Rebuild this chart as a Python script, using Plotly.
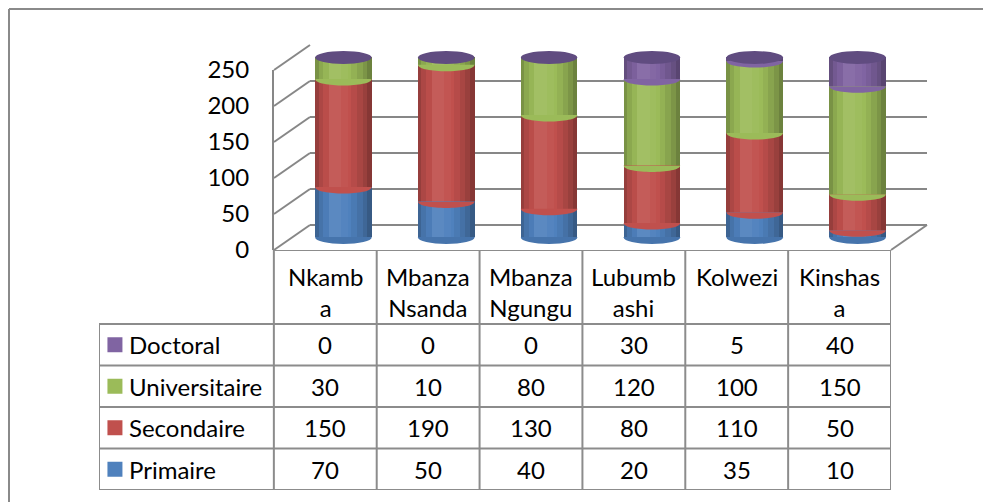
import plotly.graph_objects as go

# ------------------------------------------------------------
# data
# ------------------------------------------------------------
regions = ["Nkamba", "Mbanza Nsanda", "Mbanza Ngungu", "Lubumbashi", "Kolwezi", "Kinshasa"]
header_labels = ["Nkamb<br>a", "Mbanza<br>Nsanda", "Mbanza<br>Ngungu",
                 "Lubumb<br>ashi", "Kolwezi", "Kinshas<br>a"]

primaire      = [70, 50, 40, 20, 35, 10]
secondaire    = [150, 190, 130, 80, 110, 50]
universitaire = [30, 10, 80, 120, 100, 150]
doctoral      = [0, 0, 0, 30, 5, 40]

y_ticks = [0, 50, 100, 150, 200, 250]

# series from bottom to top of the stack
series = [
    ("Primaire",      primaire,      "#4F81BD"),
    ("Secondaire",    secondaire,    "#C0504D"),
    ("Universitaire", universitaire, "#9BBB59"),
    ("Doctoral",      doctoral,      "#8064A2"),
]

# ------------------------------------------------------------
# page geometry (pixels on the page) – front, mid and back planes fake the 3D look
# the plot div sits 8px in from the page corner (body margin)
# ------------------------------------------------------------
W, H = 991, 502
PAGE_OFF = 8
FONT = "Lato"
FS = 24
GRID = "#878787"
TBL_LINE = "#8C8C8C"

def fx(p):
    return (p - PAGE_OFF) / W

def fy(p):
    return 1 - (p - PAGE_OFF) / H

FRONT_X = (274, 891)
FRONT_Y = (250, 70)      # value 0 -> 250px, value 250 -> 70px
DEPTH_X, DEPTH_Y = 36, -25
Y_MAX = 250
PX_PER_UNIT = (FRONT_Y[0] - FRONT_Y[1]) / Y_MAX
BAR_W = 0.55
CAP_H = 9                # half height of the cylinder ellipses, in data units
PAD = 20                 # extra room on the bar axis so lids are not clipped

# table: first column is 175px wide, the others ~103px -> 1.70 units
TBL_X = (99, 891)
TBL_Y = (250, 490)
LABEL_COL = 1.70
HEAD_H, ROW_H = 74, 41.5

fig = go.Figure()

# back wall: only carries the grid
fig.add_trace(go.Scatter(x=[None], y=[None], xaxis="x2", yaxis="y2",
                         showlegend=False, hoverinfo="skip"))
# front plane: only carries the value labels
fig.add_trace(go.Scatter(x=[None], y=[None], xaxis="x", yaxis="y",
                         showlegend=False, hoverinfo="skip"))

# stacked cylinders sit on the mid-depth plane
xs = list(range(len(regions)))
base = [0] * len(regions)
bases = []
for name, vals, color in series:
    fig.add_trace(go.Bar(
        x=xs, y=vals, base=list(base), name=name,
        marker=dict(color=color, line=dict(width=0)),
        width=BAR_W, xaxis="x3", yaxis="y3", showlegend=False,
    ))
    bases.append(list(base))
    base = [b + v for b, v in zip(base, vals)]
totals = base

# soft side shading so the columns read as cylinders (start, width as share of bar, tint)
shade = [
    (0.00, 0.06, "rgba(0,0,0,0.22)"),
    (0.06, 0.08, "rgba(0,0,0,0.10)"),
    (0.14, 0.10, "rgba(0,0,0,0.03)"),
    (0.24, 0.22, "rgba(255,255,255,0.07)"),
    (0.46, 0.12, "rgba(255,255,255,0.03)"),
    (0.64, 0.10, "rgba(0,0,0,0.05)"),
    (0.74, 0.10, "rgba(0,0,0,0.12)"),
    (0.84, 0.08, "rgba(0,0,0,0.20)"),
    (0.92, 0.08, "rgba(0,0,0,0.30)"),
]
for start, share, tint in shade:
    fig.add_trace(go.Bar(x=xs, y=totals, base=[0] * len(xs),
                         width=share * BAR_W, offset=-BAR_W / 2 + start * BAR_W,
                         marker=dict(color=tint, line=dict(width=0)),
                         xaxis="x3", yaxis="y3", showlegend=False, hoverinfo="skip"))

shapes = []
k_ctrl = 4 / 3 * CAP_H
for i, t in enumerate(totals):
    x0, x1 = i - BAR_W / 2, i + BAR_W / 2
    # rounded bottom
    shapes.append(dict(type="circle", xref="x3", yref="y3", layer="below",
                       x0=x0, x1=x1, y0=-CAP_H, y1=CAP_H,
                       fillcolor="#4674AC", line=dict(width=0)))
    # curved joins: each upper segment bulges down over the one below
    for s in range(1, len(series)):
        if series[s][1][i] == 0:
            continue
        yb = bases[s][i]
        shapes.append(dict(type="path", xref="x3", yref="y3", layer="above",
                           path=f"M {x0},{yb} C {x0},{yb - k_ctrl} {x1},{yb - k_ctrl} {x1},{yb} Z",
                           fillcolor=series[s][2], line=dict(width=0)))
    # top lid
    shapes.append(dict(type="circle", xref="x3", yref="y3", layer="above",
                       x0=x0, x1=x1, y0=t - CAP_H, y1=t + CAP_H,
                       fillcolor="#604C80", line=dict(width=0)))

# left wall diagonals and floor edge
for v in y_ticks:
    yf = FRONT_Y[0] - v * PX_PER_UNIT
    shapes.append(dict(type="line", xref="paper", yref="paper",
                       x0=fx(FRONT_X[0]), y0=fy(yf),
                       x1=fx(FRONT_X[0] + DEPTH_X), y1=fy(yf + DEPTH_Y),
                       line=dict(color=GRID, width=2)))
shapes.append(dict(type="line", xref="paper", yref="paper",
                   x0=fx(FRONT_X[1]), y0=fy(FRONT_Y[0]),
                   x1=fx(FRONT_X[1] + DEPTH_X), y1=fy(FRONT_Y[0] + DEPTH_Y),
                   line=dict(color=GRID, width=2)))
# outer chart border (only its top and left edges are on screen)
shapes.append(dict(type="line", xref="paper", yref="paper",
                   x0=fx(9), y0=fy(9), x1=1, y1=fy(9),
                   line=dict(color="#8A8A8A", width=2)))
shapes.append(dict(type="line", xref="paper", yref="paper",
                   x0=fx(9), y0=fy(9), x1=fx(9), y1=0,
                   line=dict(color="#8A8A8A", width=2)))

# ------------------------------------------------------------
# data table with legend keys (drawn on its own axis pair)
# ------------------------------------------------------------
table_rows = list(reversed(series))   # Doctoral on top
t_left = -0.5 - LABEL_COL
t_right = len(regions) - 0.5
t_bottom = HEAD_H + ROW_H * len(table_rows)
row_mid = [HEAD_H + ROW_H * (k + 0.5) for k in range(len(table_rows))]

tline = dict(color=TBL_LINE, width=2)
# horizontal rules
shapes.append(dict(type="line", xref="x4", yref="y4", x0=-0.5, x1=t_right, y0=0, y1=0, line=tline))
for k in range(len(table_rows) + 1):
    yk = HEAD_H + ROW_H * k
    shapes.append(dict(type="line", xref="x4", yref="y4", x0=t_left, x1=t_right,
                       y0=yk, y1=yk, line=tline))
# vertical rules
shapes.append(dict(type="line", xref="x4", yref="y4", x0=t_left, x1=t_left,
                   y0=HEAD_H, y1=t_bottom, line=tline))
for k in range(len(regions) + 1):
    shapes.append(dict(type="line", xref="x4", yref="y4", x0=k - 0.5, x1=k - 0.5,
                       y0=0, y1=t_bottom, line=tline))

annotations = []
for i, lab in enumerate(header_labels):
    annotations.append(dict(x=i, y=10, xref="x4", yref="y4", text=lab, showarrow=False,
                            xanchor="center", yanchor="top", align="center",
                            font=dict(family=FONT, size=FS, color="black")))
for k, (name, vals, color) in enumerate(table_rows):
    annotations.append(dict(x=t_left + 0.27, y=row_mid[k], xref="x4", yref="y4", text=name,
                            showarrow=False, xanchor="left", yanchor="middle",
                            font=dict(family=FONT, size=FS, color="black")))
    for i, v in enumerate(vals):
        annotations.append(dict(x=i, y=row_mid[k], xref="x4", yref="y4", text=str(v),
                                showarrow=False, xanchor="center", yanchor="middle",
                                font=dict(family=FONT, size=FS, color="black")))

# legend keys
fig.add_trace(go.Scatter(
    x=[t_left + 0.155] * len(table_rows), y=row_mid, mode="markers",
    marker=dict(symbol="square", size=15, color=[c for _, _, c in table_rows],
                line=dict(width=0)),
    xaxis="x4", yaxis="y4", showlegend=False, hoverinfo="skip",
))

mid_y0 = FRONT_Y[0] + DEPTH_Y / 2 + PAD * PX_PER_UNIT
mid_y1 = FRONT_Y[1] + DEPTH_Y / 2 - PAD * PX_PER_UNIT

fig.update_layout(
    width=W, height=H,
    margin=dict(l=0, r=0, t=0, b=0),
    paper_bgcolor="white", plot_bgcolor="rgba(0,0,0,0)",
    barmode="overlay", bargap=0,
    font=dict(family=FONT, size=FS, color="black"),
    showlegend=False,
    shapes=shapes, annotations=annotations,
    # front plane
    xaxis=dict(domain=[fx(FRONT_X[0]), fx(FRONT_X[1])], range=[-0.5, 5.5],
               showticklabels=False, showgrid=False, zeroline=False, fixedrange=True),
    yaxis=dict(domain=[fy(FRONT_Y[0]), fy(FRONT_Y[1])], range=[0, Y_MAX],
               tickvals=y_ticks, showgrid=False, zeroline=False,
               showline=True, linecolor=GRID, linewidth=2,
               ticks="", ticklabelstandoff=18, automargin=False,
               tickfont=dict(family=FONT, size=FS, color="black")),
    # back wall
    xaxis2=dict(domain=[fx(FRONT_X[0] + DEPTH_X), fx(FRONT_X[1] + DEPTH_X)],
                anchor="y2", range=[-0.5, 5.5], visible=False),
    yaxis2=dict(domain=[fy(FRONT_Y[0] + DEPTH_Y), fy(FRONT_Y[1] + DEPTH_Y)],
                anchor="x2", range=[0, Y_MAX], tickvals=y_ticks,
                showgrid=True, gridcolor=GRID, gridwidth=2,
                zeroline=True, zerolinecolor=GRID, zerolinewidth=2,
                showticklabels=False, ticks=""),
    # mid plane (bars)
    xaxis3=dict(domain=[fx(FRONT_X[0] + DEPTH_X / 2), fx(FRONT_X[1] + DEPTH_X / 2)],
                anchor="y3", range=[-0.5, 5.5], visible=False),
    yaxis3=dict(domain=[fy(mid_y0), fy(mid_y1)],
                anchor="x3", range=[-PAD, Y_MAX + PAD], visible=False),
    # table
    xaxis4=dict(domain=[fx(TBL_X[0]), fx(TBL_X[1])], anchor="y4",
                range=[t_left, t_right], visible=False),
    yaxis4=dict(domain=[fy(TBL_Y[1]), fy(TBL_Y[0])], anchor="x4",
                range=[t_bottom, 0], visible=False),
)

fig.write_html("out.html")
